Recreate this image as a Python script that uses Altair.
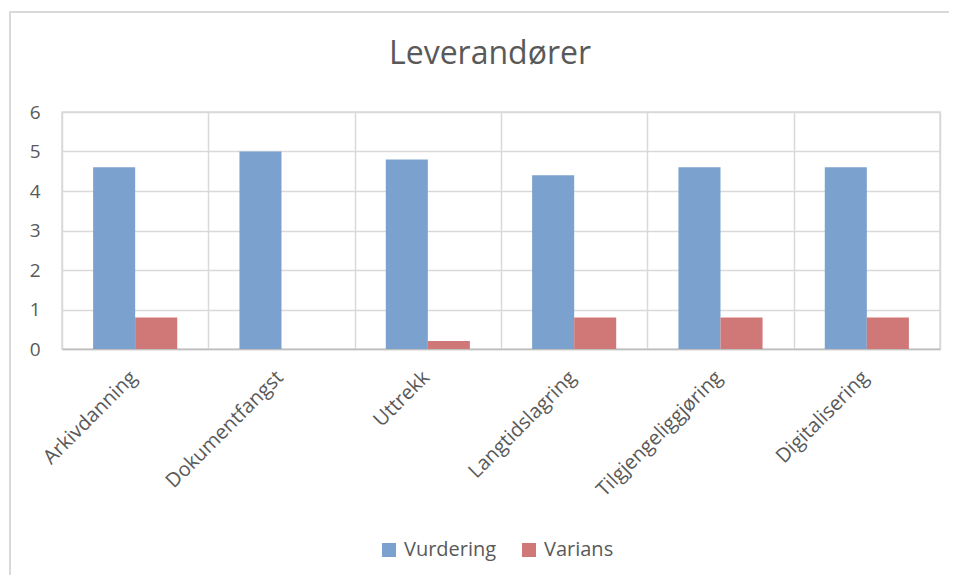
import altair as alt
import pandas as pd

categories = ["Arkivdanning", "Dokumentfangst", "Uttrekk", "Langtidslagring",
              "Tilgjengeliggjøring", "Digitalisering"]
vurdering = [4.6, 5.0, 4.8, 4.4, 4.6, 4.6]
varians = [0.8, 0.0, 0.2, 0.8, 0.8, 0.8]
series = ["Vurdering", "Varians"]
colors = ["#7BA1CF", "#CF7877"]
y_ticks = [0, 1, 2, 3, 4, 5, 6]

rows = []
for c, a, b in zip(categories, vurdering, varians):
    rows.append({"Kategori": c, "Serie": series[0], "Verdi": a})
    rows.append({"Kategori": c, "Serie": series[1], "Verdi": b})
df = pd.DataFrame(rows)

FONT = "Open Sans"
TXT = "#595959"

bars = alt.Chart(df).mark_bar(stroke=None).encode(
    x=alt.X("Kategori:N", sort=categories,
            scale=alt.Scale(paddingInner=0, paddingOuter=0),
            axis=alt.Axis(title=None, labelAngle=-45, labelFontSize=20,
                          labelColor=TXT, labelFont=FONT, ticks=False,
                          labelAlign="right", labelBaseline="middle",
                          tickBand="extent", grid=True, gridColor="#D9D9D9",
                          gridWidth=1.5, domainColor="#BFBFBF", domainWidth=1.5,
                          labelPadding=25, labelOffset=-2)),
    xOffset=alt.XOffset("Serie:N", sort=series,
                        scale=alt.Scale(paddingInner=0, paddingOuter=0.74)),
    y=alt.Y("Verdi:Q", scale=alt.Scale(domain=[0, 6], nice=False),
            axis=alt.Axis(title=None, values=y_ticks, labelFontSize=19,
                          labelColor=TXT, labelFont=FONT, ticks=False,
                          domain=False, gridColor="#D9D9D9", gridWidth=1.5,
                          labelPadding=22)),
    color=alt.Color("Serie:N", sort=series,
                    scale=alt.Scale(domain=series, range=colors),
                    legend=alt.Legend(title=None, orient="none", legendX=317,
                                      legendY=428, direction="horizontal",
                                      symbolType="square", symbolSize=196,
                                      symbolStrokeWidth=0, labelFontSize=20,
                                      labelFont=FONT, labelColor=TXT,
                                      labelOffset=5, columnPadding=22,
                                      padding=0)),
)

border = alt.Chart(pd.DataFrame({"k": [0]})).mark_rect(
    fill=None, stroke="#D9D9D9", strokeWidth=2
).encode(
    x=alt.value(-52), x2=alt.value(1200),
    y=alt.value(-100), y2=alt.value(1200),
)

chart = alt.layer(border, bars).properties(
    width=878, height=237,
    autosize=alt.AutoSizeParams(type="none"),
    padding={"left": 54, "top": 104, "right": 9, "bottom": 226},
    title=alt.TitleParams("Leverandører", fontSize=32, font=FONT,
                          fontWeight="normal", color=TXT, anchor="middle",
                          dx=-11, offset=-60),
).configure_view(stroke="#D9D9D9", strokeWidth=1.5)

chart.save("out.html", embed_options={"renderer": "svg", "actions": False})
